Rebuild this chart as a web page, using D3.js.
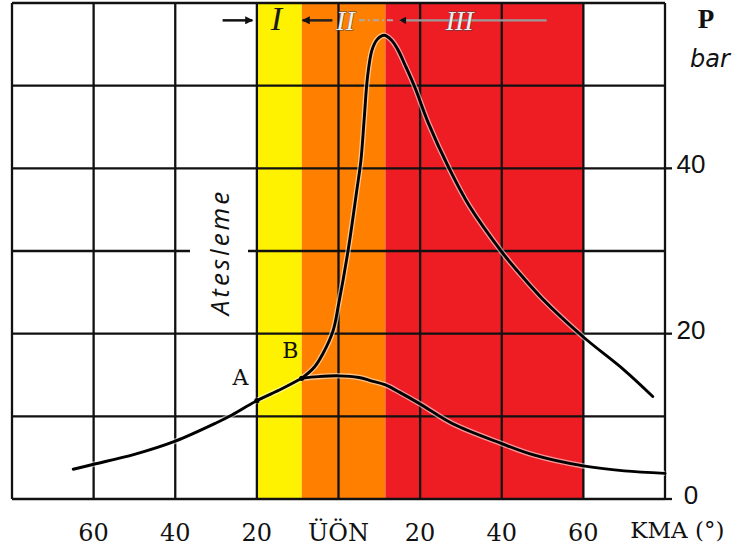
<!DOCTYPE html>
<html>
<head>
<meta charset="utf-8">
<script src="https://cdn.jsdelivr.net/npm/d3@7"></script>
<style>
  body { margin: 0; background: #fff; }
  svg { display: block; }
</style>
</head>
<body>
<div id="chart"></div>
<script>
// crank angle (deg, - = before TDC) and pressure (bar)
const compAngle = [-65, -60, -50, -40, -30, -26, -20, -14, -9];
const compP     = [3.6, 4.2, 5.4, 7.0, 9.2, 10.2, 11.9, 13.3, 14.6];

const fireAngle = [-9, -6, -3.8, -1.3, 0, 2.3, 4.5, 5.5, 6.3, 7.1, 8.2, 9.5, 11.2, 13, 14.5, 16.3, 18.7, 22, 27, 32, 40, 44, 50, 60, 70, 77];
const fireP     = [14.6, 15.9, 17.6, 20.4, 23.5, 29.9, 37.4, 41, 46, 51, 54.3, 55.6, 56.1, 55.5, 54.4, 52.5, 49.8, 45.5, 40.1, 35.5, 29.9, 27.5, 24.2, 19.6, 15.6, 12.4];

const motorAngle = [-9, -5, 0, 5, 8, 11.5, 15, 20, 28, 40, 48, 60, 70, 80];
const motorP     = [14.6, 14.8, 14.9, 14.7, 14.3, 13.8, 12.9, 11.5, 9.1, 6.7, 5.3, 4.0, 3.4, 3.1];

// phase bands I, II, III
const bandFrom = [-20, -9, 11.5];
const bandTo   = [-9, 11.5, 60];

const angleTicks = [-80, -60, -40, -20, 0, 20, 40, 60, 80];
const pTicks = [0, 10, 20, 30, 40, 50, 60];
const xLabelAngles = [-60, -40, -20, 0, 20, 40, 60];
const xLabelTexts  = ["60", "40", "20", "ÜÖN", "20", "40", "60"];
const yLabelValues = [0, 20, 40];

const bandColors = ["#fff200", "#ff7f00", "#ee1d23"];

const W = 747, H = 554;
const margin = {top: 3, right: 82, bottom: 55, left: 12};

const svg = d3.select("#chart").append("svg")
    .attr("width", W)
    .attr("height", H);

const x = d3.scaleLinear().domain([-80, 80]).range([margin.left, W - margin.right]);
const y = d3.scaleLinear().domain([0, 60]).range([H - margin.bottom, margin.top]);

// bands
svg.append("g")
  .selectAll("rect")
  .data(bandFrom)
  .enter()
  .append("rect")
  .attr("x", (d) => x(d))
  .attr("y", y(60))
  .attr("width", (d, i) => x(bandTo[i]) - x(d))
  .attr("height", y(0) - y(60))
  .style("fill", (d, i) => bandColors[i]);

// grid
const grid = svg.append("g").style("stroke", "#111").style("stroke-width", 2.3);
grid.selectAll("line.v")
  .data(angleTicks)
  .enter()
  .append("line")
  .attr("class", "v")
  .attr("x1", (d) => x(d)).attr("x2", (d) => x(d))
  .attr("y1", y(60)).attr("y2", y(0));
grid.selectAll("line.h")
  .data(pTicks)
  .enter()
  .append("line")
  .attr("class", "h")
  .attr("x1", x(-80)).attr("x2", x(80))
  .attr("y1", (d) => y(d)).attr("y2", (d) => y(d));

// small ticks on the right
grid.selectAll("line.t")
  .data(yLabelValues)
  .enter()
  .append("line")
  .attr("class", "t")
  .attr("x1", x(80)).attr("x2", x(80) + 7)
  .attr("y1", (d) => y(d)).attr("y2", (d) => y(d));

// white box behind "Atesleme" (cuts the grid line there)
svg.append("rect")
  .attr("x", 190).attr("y", 176)
  .attr("width", 58).attr("height", 150)
  .style("fill", "#fff");

svg.append("text")
  .attr("transform", "translate(229,252) rotate(-90)")
  .attr("text-anchor", "middle")
  .style("font-family", "'Open Sans', 'DejaVu Sans', sans-serif")
  .style("font-style", "italic")
  .style("font-size", "26px")
  .style("letter-spacing", "3px")
  .style("fill", "#111")
  .text("Atesleme");

// curves
const line = d3.line()
  .x((d) => x(d[0]))
  .y((d) => y(d[1]))
  .curve(d3.curveCatmullRom.alpha(0.5));

const curves = [
  d3.zip(compAngle, compP),
  d3.zip(fireAngle, fireP),
  d3.zip(motorAngle, motorP)
];

svg.append("g")
  .selectAll("path")
  .data(curves)
  .enter()
  .append("path")
  .attr("d", line)
  .style("fill", "none")
  .style("stroke", "#fff")
  .style("stroke-opacity", 0.55)
  .style("stroke-width", 5.5);

svg.append("g")
  .selectAll("path")
  .data(curves)
  .enter()
  .append("path")
  .attr("d", line)
  .style("fill", "none")
  .style("stroke", "#000")
  .style("stroke-width", 2.9)
  .style("stroke-linecap", "round");

// A and B points
svg.append("circle").attr("cx", x(-20)).attr("cy", y(11.9)).attr("r", 2.6).style("fill", "#000");
svg.append("circle").attr("cx", x(-9)).attr("cy", y(14.6)).attr("r", 2.6).style("fill", "#000");

svg.append("text")
  .attr("x", x(-24)).attr("y", 385)
  .attr("text-anchor", "middle")
  .style("font-family", "'DejaVu Serif', serif")
  .style("font-size", "22px")
  .style("fill", "#111")
  .text("A");
svg.append("text")
  .attr("x", x(-11.8)).attr("y", 358)
  .attr("text-anchor", "middle")
  .style("font-family", "'DejaVu Serif', serif")
  .style("font-size", "22px")
  .style("fill", "#111")
  .text("B");

// phase markers at the top
const defs = svg.append("defs");
defs.append("marker")
  .attr("id", "head")
  .attr("viewBox", "0 0 10 10")
  .attr("refX", 9).attr("refY", 5)
  .attr("markerWidth", 4).attr("markerHeight", 3.2)
  .attr("orient", "auto")
  .append("path")
  .attr("d", "M0,0L10,5L0,10Z")
  .style("fill", "#111");

const yTop = y(57.9);

svg.append("line")
  .attr("x1", x(-28.4)).attr("x2", x(-21.1))
  .attr("y1", yTop).attr("y2", yTop)
  .style("stroke", "#111").style("stroke-width", 2.5)
  .attr("marker-end", "url(#head)");

svg.append("line")
  .attr("x1", x(-1.5)).attr("x2", x(-8.8))
  .attr("y1", yTop).attr("y2", yTop)
  .style("stroke", "#222").style("stroke-width", 2.5)
  .attr("marker-end", "url(#head)");
svg.append("line")
  .attr("x1", x(5)).attr("x2", x(13.7))
  .attr("y1", yTop).attr("y2", yTop)
  .style("stroke", "#aaa").style("stroke-width", 2)
  .style("stroke-dasharray", "6,3,2,3");

svg.append("line")
  .attr("x1", x(51)).attr("x2", x(15))
  .attr("y1", yTop).attr("y2", yTop)
  .style("stroke", "#9a9a9a").style("stroke-width", 2.2)
  .attr("marker-end", "url(#head)");

const romans = [
  {a: -15.2, t: "I", fill: "#1a1a1a", stroke: "none"},
  {a: 1.7, t: "II", fill: "#eeeeee", stroke: "#444"},
  {a: 29.7, t: "III", fill: "#eeeeee", stroke: "#444"}
];
svg.append("g")
  .selectAll("text")
  .data(romans)
  .enter()
  .append("text")
  .attr("x", (d) => x(d.a))
  .attr("y", 30)
  .attr("text-anchor", "middle")
  .style("font-family", "'Liberation Serif', serif")
  .style("font-style", "italic")
  .style("font-size", (d, i) => i == 0 ? "34px" : "28px")
  .style("fill", (d) => d.fill)
  .style("stroke", (d) => d.stroke)
  .style("stroke-width", 0.8)
  .style("paint-order", "stroke")
  .text((d) => d.t);

// x labels
svg.append("g")
  .selectAll("text")
  .data(xLabelAngles)
  .enter()
  .append("text")
  .attr("x", (d) => x(d))
  .attr("y", 541)
  .attr("text-anchor", "middle")
  .style("font-family", "'DejaVu Serif', serif")
  .style("font-size", "24px")
  .style("fill", "#111")
  .text((d, i) => xLabelTexts[i]);

svg.append("text")
  .attr("x", x(71.5))
  .attr("y", 538)
  .style("font-family", "'DejaVu Serif', serif")
  .style("font-size", "23px")
  .style("fill", "#111")
  .text("KMA (°)");

// y labels
svg.append("g")
  .selectAll("text")
  .data(yLabelValues)
  .enter()
  .append("text")
  .attr("x", 691)
  .attr("y", (d) => y(d) + 5)
  .attr("text-anchor", "middle")
  .style("font-family", "'Liberation Sans', Arial, sans-serif")
  .style("font-size", "26px")
  .style("fill", "#111")
  .text((d) => d);

svg.append("text")
  .attr("x", 706).attr("y", 28)
  .attr("text-anchor", "middle")
  .style("font-family", "'Liberation Serif', serif")
  .style("font-weight", "bold")
  .style("font-size", "27px")
  .style("fill", "#111")
  .text("P");

svg.append("text")
  .attr("x", 710).attr("y", 67)
  .attr("text-anchor", "middle")
  .style("font-family", "'DejaVu Sans', sans-serif")
  .style("font-style", "italic")
  .style("font-size", "24px")
  .style("fill", "#111")
  .text("bar");
</script>
</body>
</html>
